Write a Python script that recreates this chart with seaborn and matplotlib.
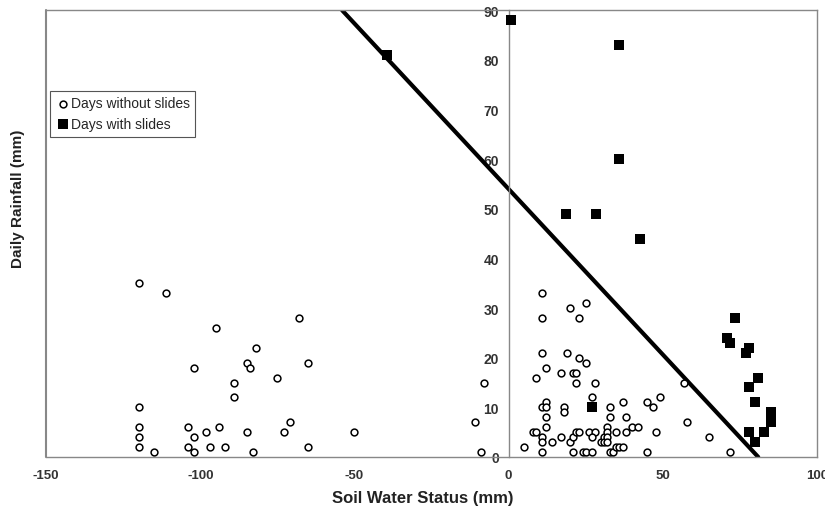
import numpy as np
import pandas as pd
import matplotlib
matplotlib.use('Agg')
from matplotlib import pyplot as plt
import seaborn as sns

sns.set_theme(style='white')
plt.rcParams['font.family'] = ['Liberation Sans', 'DejaVu Sans']
plt.rcParams['axes.unicode_minus'] = False

# days without slides (soil water status, daily rainfall)
no_slide_x = [-120, -111, -95, -82, -102, -85, -84, -75, -89, -89,
              -120, -120, -120, -120, -115, -104, -102, -104, -102, -98,
              -94, -97, -92, -85, -83, -68, -65, -71, -73, -65,
              -50, -11, -8, -9,
              11, 11, 20, 25, 23, 11, 12, 9, 19, 17,
              21, 22, 23, 25, 22, 28, 27, 11, 12, 12,
              12, 18, 18, 12, 8, 9, 11, 11, 14, 11,
              5, 17, 20, 21, 22, 23, 21, 24, 25, 27,
              26, 28, 27, 30, 31, 31, 32, 32, 32, 32,
              33, 33, 35, 33, 34, 35, 36, 37, 37, 38,
              38, 40, 42, 45, 47, 49, 48, 45, 57, 58,
              65, 72]
no_slide_y = [35, 33, 26, 22, 18, 19, 18, 16, 15, 12,
              10, 6, 4, 2, 1, 6, 4, 2, 1, 5,
              6, 2, 2, 5, 1, 28, 19, 7, 5, 2,
              5, 7, 15, 1,
              33, 28, 30, 31, 28, 21, 18, 16, 21, 17,
              17, 17, 20, 19, 15, 15, 12, 10, 11, 10,
              8, 10, 9, 6, 5, 5, 4, 3, 3, 1,
              2, 4, 3, 4, 5, 5, 1, 1, 1, 1,
              5, 5, 4, 3, 4, 3, 6, 5, 4, 3,
              10, 8, 5, 1, 1, 2, 2, 2, 11, 8,
              5, 6, 6, 11, 10, 12, 5, 1, 15, 7,
              4, 1]

# days with slides
slide_x = [0.7, 36, 36, 18.5, 28.5, 42.5, -39.5, 27, 73.5, 71,
           72, 78, 77, 81, 78, 80, 85, 85, 78, 83, 80]
slide_y = [88, 83, 60, 49, 49, 44, 81, 10, 28, 24,
           23, 22, 21, 16, 14, 11, 9, 7, 5, 5, 3]

# threshold line
line_x = [-54, 81]
line_y = [90, 0]

xticks = [-150, -100, -50, 0, 50, 100]
yticks = [0, 10, 20, 30, 40, 50, 60, 70, 80, 90]

fig, ax = plt.subplots(figsize=(8.25, 5.1), dpi=100)
fig.subplots_adjust(left=0.056, right=0.99, top=0.978, bottom=0.102)

sns.lineplot(x=line_x, y=line_y, color='black', linewidth=3, ax=ax, zorder=2)
sns.scatterplot(x=no_slide_x, y=no_slide_y, marker='o', s=24,
                facecolor='white', edgecolor='black', linewidth=1.1,
                label='Days without slides', ax=ax, zorder=3)
sns.scatterplot(x=slide_x, y=slide_y, marker='s', s=44, color='black',
                edgecolor='black', linewidth=0,
                label='Days with slides', ax=ax, zorder=4)

ax.set_xlim(-150, 100)
ax.set_ylim(0, 90)
ax.spines['left'].set_position(('data', 0))
for sp in ax.spines.values():
    sp.set_color('#888888')
    sp.set_linewidth(1)
ax.axvline(-150, color='#888888', lw=1.5, clip_on=False)

ax.set_xticks(xticks)
ax.set_xticklabels([str(v) for v in xticks])
ax.set_yticks(yticks)
ax.set_yticklabels([str(v) for v in yticks])
ax.tick_params(axis='x', direction='inout', length=6, width=1, color='#888888',
               labelsize=9.5, pad=6, labelcolor='#333333')
ax.tick_params(axis='y', direction='out', length=4, width=1, color='#888888',
               labelsize=10, pad=3, labelcolor='#333333')
for t in ax.get_xticklabels() + ax.get_yticklabels():
    t.set_fontweight('bold')

ax.set_xlabel('Soil Water Status (mm)', fontsize=12, fontweight='bold', color='#222222')
ax.xaxis.set_label_coords(0.489, -0.074)
ax.set_ylabel('Daily Rainfall (mm)', fontsize=11, fontweight='bold', color='#222222')
ax.yaxis.set_label_coords(-0.028, 0.58)

leg = ax.legend(loc='upper left', bbox_to_anchor=(0.005, 0.82), frameon=True,
                fancybox=False, edgecolor='#555555', framealpha=1, fontsize=10,
                handletextpad=0.1, handlelength=1.0, borderpad=0.4,
                labelspacing=0.5, borderaxespad=0)
leg.get_frame().set_linewidth(0.8)

fig.savefig('out.png', dpi=100)
